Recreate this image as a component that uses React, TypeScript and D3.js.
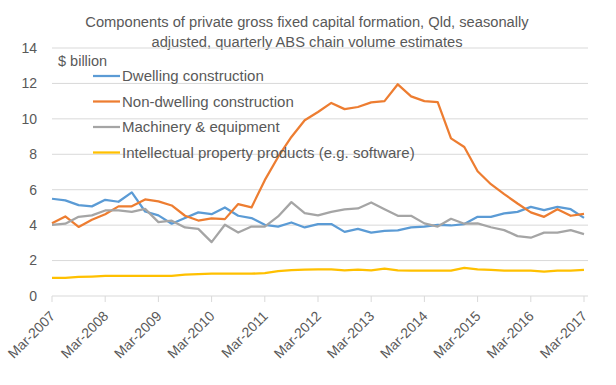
import * as React from 'react'
import { useEffect, useRef } from 'react'
import * as d3 from 'd3'

const title = [
  'Components of private gross fixed capital formation, Qld, seasonally',
  'adjusted, quarterly ABS chain volume estimates',
]

// Mar-2007 .. Mar-2017
const quarters: string[] = []
for (let y = 2007; y <= 2017; y++) {
  for (const m of ['Mar', 'Jun', 'Sep', 'Dec']) {
    if (y === 2017 && m !== 'Mar') break
    quarters.push(`${m}-${y}`)
  }
}

const dwelling = [
  5.49, 5.4, 5.13, 5.06, 5.43, 5.32, 5.85, 4.77, 4.55, 4.08, 4.4, 4.72,
  4.62, 5.0, 4.53, 4.4, 4.02, 3.92, 4.15, 3.87, 4.06, 4.06, 3.62, 3.79,
  3.58, 3.68, 3.7, 3.87, 3.92, 4.02, 3.98, 4.06, 4.47, 4.47, 4.66, 4.75,
  5.03, 4.85, 5.03, 4.9, 4.41,
]
const nonDwelling = [
  4.11, 4.49, 3.9, 4.3, 4.62, 5.06, 5.06, 5.45, 5.34, 5.11, 4.53, 4.26,
  4.38, 4.34, 5.19, 5.0, 6.54, 7.85, 8.98, 9.92, 10.39, 10.9, 10.55, 10.67,
  10.93, 11.0, 11.95, 11.27, 11.0, 10.95, 8.9, 8.41, 7.04, 6.31, 5.75, 5.22,
  4.72, 4.47, 4.9, 4.53, 4.63,
]
const machinery = [
  4.02, 4.08, 4.47, 4.55, 4.83, 4.83, 4.75, 4.92, 4.17, 4.25, 3.87, 3.79,
  3.04, 4.02, 3.58, 3.92, 3.92, 4.49, 5.3, 4.68, 4.55, 4.75, 4.89, 4.94,
  5.28, 4.9, 4.53, 4.53, 4.1, 3.92, 4.36, 4.08, 4.1, 3.88, 3.72, 3.38,
  3.29, 3.58, 3.58, 3.72, 3.49,
]
const intellectual = [
  1.03, 1.03, 1.08, 1.1, 1.13, 1.13, 1.13, 1.13, 1.13, 1.13, 1.2, 1.24,
  1.26, 1.26, 1.26, 1.26, 1.29, 1.4, 1.46, 1.49, 1.5, 1.5, 1.45, 1.49,
  1.45, 1.54, 1.45, 1.43, 1.43, 1.43, 1.43, 1.59, 1.5, 1.48, 1.43, 1.43,
  1.43, 1.37, 1.43, 1.43, 1.48,
]

const seriesNames = [
  'Dwelling construction',
  'Non-dwelling construction',
  'Machinery & equipment',
  'Intellectual property products (e.g. software)',
]
const seriesValues = [dwelling, nonDwelling, machinery, intellectual]
const colors = ['#5b9bd5', '#ed7d31', '#a5a5a5', '#ffc000']
const yTicks = [0, 2, 4, 6, 8, 10, 12, 14]

const width = 616
const height = 385
const font = '"Liberation Sans", Arial, sans-serif'
const textColor = '#595959'

export default function App() {
  const ref = useRef<SVGSVGElement | null>(null)

  useEffect(() => {
    const svg = d3.select(ref.current)
    svg.selectAll('*').remove()

    const left = 52
    const right = 588
    const x = d3.scalePoint<string>().domain(quarters).range([left, 584])
    const y = d3.scaleLinear().domain([0, 14]).range([296, 48])

    // title
    svg.append('text')
      .attr('x', 307).attr('y', 27)
      .attr('text-anchor', 'middle')
      .style('font-family', font).style('font-size', '14.7px').style('fill', textColor)
      .selectAll('tspan')
      .data(title)
      .enter()
      .append('tspan')
      .attr('x', 307)
      .attr('dy', (d, i) => (i === 0 ? 0 : 19.5))
      .text(d => d)

    // gridlines
    svg.append('g')
      .selectAll('line')
      .data(yTicks.filter(t => t > 0))
      .enter()
      .append('line')
      .attr('x1', left).attr('x2', right)
      .attr('y1', d => y(d)).attr('y2', d => y(d))
      .attr('stroke', '#d9d9d9').attr('stroke-width', 1)

    // y labels
    svg.append('g')
      .selectAll('text')
      .data(yTicks)
      .enter()
      .append('text')
      .attr('x', 37).attr('y', d => y(d))
      .attr('dy', '0.35em')
      .attr('text-anchor', 'end')
      .style('font-family', font).style('font-size', '14px').style('fill', textColor)
      .text(d => d)

    // x axis
    svg.append('line')
      .attr('x1', left).attr('x2', right)
      .attr('y1', y(0)).attr('y2', y(0))
      .attr('stroke', '#d9d9d9').attr('stroke-width', 1)

    const yearTicks = quarters.filter(q => q.startsWith('Mar'))
    svg.append('g')
      .selectAll('line')
      .data(yearTicks)
      .enter()
      .append('line')
      .attr('x1', d => x(d)!).attr('x2', d => x(d)!)
      .attr('y1', y(0)).attr('y2', y(0) + 6)
      .attr('stroke', '#d9d9d9').attr('stroke-width', 1)

    svg.append('g')
      .selectAll('text')
      .data(yearTicks)
      .enter()
      .append('text')
      .attr('transform', d => `translate(${x(d)! + 4}, ${y(0) + 21}) rotate(-45)`)
      .attr('text-anchor', 'end')
      .style('font-family', font).style('font-size', '14px').style('fill', textColor)
      .text(d => d)

    // lines
    const line = d3.line<number>()
      .x((d, i) => x(quarters[i])!)
      .y(d => y(d))

    svg.append('g')
      .selectAll('path')
      .data(seriesValues)
      .enter()
      .append('path')
      .attr('d', d => line(d))
      .attr('fill', 'none')
      .attr('stroke', (d, i) => colors[i])
      .attr('stroke-width', 2.25)
      .attr('stroke-linejoin', 'round')

    // unit label
    svg.append('text')
      .attr('x', 58).attr('y', 61)
      .attr('dy', '0.35em')
      .style('font-family', font).style('font-size', '14.5px').style('fill', textColor)
      .text('$ billion')

    // legend
    const legend = svg.append('g')
      .selectAll('g')
      .data(seriesNames)
      .enter()
      .append('g')
      .attr('transform', (d, i) => `translate(93, ${76 + i * 25.5})`)
    legend.append('line')
      .attr('x1', 0).attr('x2', 27)
      .attr('stroke', (d, i) => colors[i]).attr('stroke-width', 2.25)
    legend.append('text')
      .attr('x', 29).attr('dy', '0.35em')
      .style('font-family', font).style('font-size', '15px').style('fill', textColor)
      .text(d => d)
  }, [])

  return (
    <svg ref={ref} width={width} height={height}
      style={{ position: 'absolute', left: 0, top: 0, background: '#fff' }} />
  )
}
